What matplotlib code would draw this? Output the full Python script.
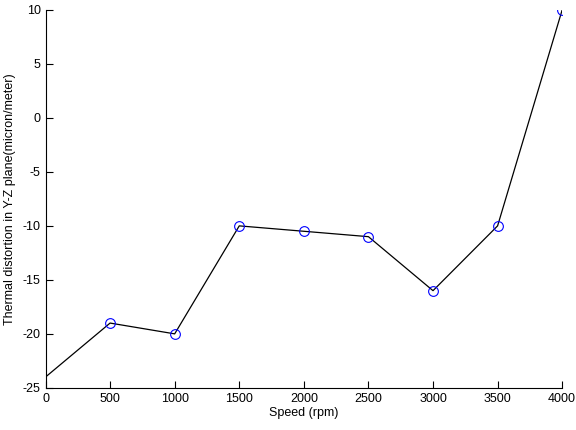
import numpy as np
import matplotlib.pyplot as plt

plt.rcParams['font.family'] = ['Liberation Sans', 'DejaVu Sans']
plt.rcParams['axes.unicode_minus'] = False

speed = [0, 500, 1000, 1500, 2000, 2500, 3000, 3500, 4000]
distortion = [-24, -19, -20, -10, -10.5, -11, -16, -10, 10]

fig = plt.figure(figsize=(5.76, 4.3), dpi=100)
ax = fig.add_axes([0.079, 0.098, 0.897, 0.879])

ax.plot(speed, distortion, color='black', linewidth=0.9)
# markers only on the measured points (from 500 rpm)
ax.plot(speed[1:], distortion[1:], 'o', markerfacecolor='none',
        markeredgecolor='#0000ff', markersize=7, markeredgewidth=0.8)

ax.set_xlim(0, 4000)
ax.set_ylim(-25, 10)
ax.set_xticks(np.arange(0, 4001, 500))
ax.set_yticks(np.arange(-25, 11, 5))
ax.spines['top'].set_visible(False)
ax.spines['right'].set_visible(False)
ax.tick_params(direction='in', length=5, labelsize=9)

ax.set_xlabel('Speed (rpm)', fontsize=9, labelpad=2)
ax.set_ylabel('Thermal distortion in Y-Z plane(micron/meter)', fontsize=9, labelpad=5)

fig.savefig('out.png', dpi=100)
